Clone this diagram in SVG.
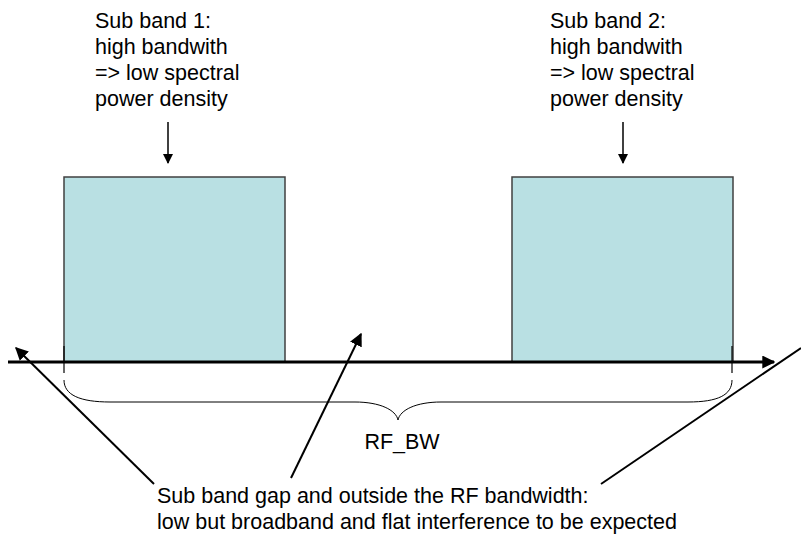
<svg xmlns="http://www.w3.org/2000/svg" width="801" height="538" viewBox="0 0 801 538">
<defs>
<style>
.t{font-family:"Liberation Sans",Arial,sans-serif;font-size:21.5px;fill:#000}
.band{fill:#B9E0E3;stroke:#404040;stroke-width:1.5}
.ln{stroke:#000;fill:none}
</style>
<marker id="ah" viewBox="0 0 10 10" refX="9" refY="5" markerWidth="10" markerHeight="10" markerUnits="userSpaceOnUse" orient="auto"><path d="M0,0 L10,5 L0,10 z" fill="#000"/></marker>
<marker id="ah2" viewBox="0 0 10 10" refX="9" refY="5" markerWidth="13" markerHeight="13" markerUnits="userSpaceOnUse" orient="auto"><path d="M0,0 L10,5 L0,10 z" fill="#000"/></marker>
</defs>
<rect width="801" height="538" fill="#fff"/>
<g id="band1">
<rect class="band" x="64" y="177" width="221" height="185"/>
<text class="t" x="95" y="28">Sub band 1:</text>
<text class="t" x="95" y="54">high bandwith</text>
<text class="t" x="95" y="80">=&gt; low spectral</text>
<text class="t" x="95" y="106">power density</text>
</g>
<g id="band2">
<rect class="band" x="512" y="177" width="221" height="185"/>
<text class="t" x="550" y="28">Sub band 2:</text>
<text class="t" x="550" y="54">high bandwith</text>
<text class="t" x="550" y="80">=&gt; low spectral</text>
<text class="t" x="550" y="106">power density</text>
</g>
<g id="rfbw">
<path class="ln" stroke-width="1" d="M64,380 C64,395 80,402 110,402 L355,402 C380,402 396,410 398,420 C400,410 416,402 441,402 L688,402 C718,402 732,395 732,380"/>
<text class="t" x="402" y="449" text-anchor="middle">RF_BW</text>
</g>
<g id="note">
<text class="t" x="157" y="503">Sub band gap and outside the RF bandwidth:</text>
<text class="t" x="157" y="529">low but broadband and flat interference to be expected</text>
</g>
<g id="connectors">
<line class="ln" x1="8" y1="362" x2="774" y2="362" stroke-width="3" marker-end="url(#ah2)"/>
<line class="ln" x1="64" y1="346" x2="64" y2="373" stroke-width="1.2"/>
<line class="ln" x1="732" y1="346" x2="732" y2="373" stroke-width="1.2"/>
<line class="ln" x1="168" y1="122" x2="168" y2="163" stroke-width="1.5" marker-end="url(#ah)"/>
<line class="ln" x1="623" y1="122" x2="623" y2="163" stroke-width="1.5" marker-end="url(#ah)"/>
<line class="ln" x1="154" y1="484" x2="16" y2="348" stroke-width="2" marker-end="url(#ah2)"/>
<line class="ln" x1="291" y1="478" x2="361" y2="334" stroke-width="2" marker-end="url(#ah2)"/>
<line class="ln" x1="601" y1="484" x2="801" y2="348" stroke-width="2"/>
</g>
</svg>
